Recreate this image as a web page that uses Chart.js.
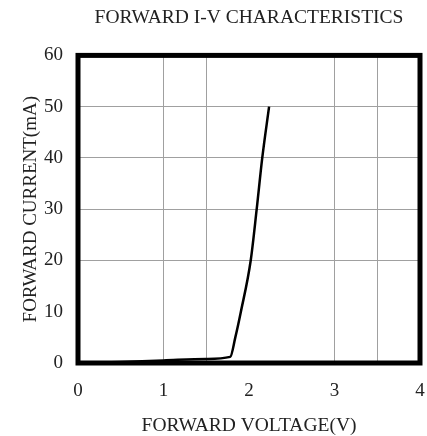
<!DOCTYPE html>
<html>
<head>
<meta charset="utf-8">
<script src="https://cdn.jsdelivr.net/npm/chart.js@4/dist/chart.umd.min.js"></script>
<style>
  html, body { margin: 0; padding: 0; background: #fff; }
  #wrap { width: 427px; height: 436px; }
</style>
</head>
<body>
<div id="wrap"><canvas id="ivChart" width="427" height="436"></canvas></div>
<script>
// forward voltage (V) vs forward current (mA)
const voltage = [0, 0.5, 1.0, 1.5, 1.78, 1.84, 1.905, 2.02, 2.09, 2.155, 2.235];
const current = [0, 0.2, 0.5, 0.8, 1.2, 5, 10, 20, 30, 40, 50];

const xTicks = [0, 1, 2, 3, 4];
const yTicks = [0, 10, 20, 30, 40, 50, 60];
const xGridAt = [1, 1.5, 3, 3.5];
const yGridAt = [20, 30, 40, 50];

const FONT = '"Liberation Serif", "DejaVu Serif", serif';

const points = voltage.map((v, i) => ({ x: v, y: current[i] }));

// thick black frame round the plot area
const framePlugin = {
    id: 'frame',
    afterDatasetsDraw(chart) {
        const a = chart.chartArea;
        const ctx = chart.ctx;
        ctx.save();
        ctx.strokeStyle = '#000';
        ctx.lineWidth = 5;
        ctx.strokeRect(a.left, a.top, a.right - a.left, a.bottom - a.top);
        ctx.restore();
    }
};

const ctx = document.getElementById('ivChart').getContext('2d');

const ivChart = new Chart(ctx, { //eslint-disable-line
    type: 'line',
    data: {
        datasets: [
            {
                data: points,
                borderColor: '#000',
                borderWidth: 2.5,
                pointRadius: 0,
                cubicInterpolationMode: 'monotone',
                fill: false
            }
        ]
    },
    options: {
        responsive: false,
        animation: false,
        layout: { padding: { left: 0, right: 7, top: 0, bottom: 0 } },
        plugins: {
            legend: { display: false },
            tooltip: { enabled: false },
            title: {
                display: true,
                text: 'FORWARD I-V CHARACTERISTICS',
                fullSize: false,
                color: '#222',
                font: { family: FONT, size: 19.5, weight: 'normal' },
                padding: { top: 6, bottom: 26 }
            }
        },
        scales: {
            x: {
                type: 'linear',
                min: 0,
                max: 4,
                afterFit: (s) => {
                    s.height = 73;
                    s.paddingLeft = 0;
                    s.paddingRight = 0;
                },
                afterBuildTicks: (s) => {
                    s.ticks = [];
                    for (let v = 0; v <= 4; v += 0.5) s.ticks.push({ value: v });
                },
                ticks: {
                    autoSkip: false,
                    maxRotation: 0,
                    padding: 17,
                    color: '#222',
                    font: { family: FONT, size: 19 },
                    callback: (v) => (xTicks.includes(v) ? String(v) : '')
                },
                grid: {
                    drawTicks: false,
                    lineWidth: 1,
                    color: (c) => (c.tick && xGridAt.includes(c.tick.value) ? '#a0a0a0' : 'rgba(0,0,0,0)')
                },
                border: { display: false },
                title: {
                    display: true,
                    text: 'FORWARD VOLTAGE(V)',
                    color: '#222',
                    font: { family: FONT, size: 19.5, lineHeight: 1 },
                    padding: 0
                }
            },
            y: {
                type: 'linear',
                min: 0,
                max: 60,
                afterFit: (s) => {
                    s.width = 78;
                    s.paddingTop = 0;
                    s.paddingBottom = 0;
                },
                afterBuildTicks: (s) => {
                    s.ticks = yTicks.map((v) => ({ value: v }));
                },
                ticks: {
                    autoSkip: false,
                    padding: 15,
                    color: '#222',
                    font: { family: FONT, size: 19 }
                },
                grid: {
                    drawTicks: false,
                    lineWidth: 1,
                    color: (c) => (c.tick && yGridAt.includes(c.tick.value) ? '#a0a0a0' : 'rgba(0,0,0,0)')
                },
                border: { display: false },
                title: {
                    display: true,
                    text: 'FORWARD CURRENT(mA)',
                    color: '#222',
                    font: { family: FONT, size: 19, lineHeight: 1.2 },
                    padding: { top: 20, bottom: 0 }
                }
            }
        }
    },
    plugins: [framePlugin]
});
</script>
</body>
</html>
